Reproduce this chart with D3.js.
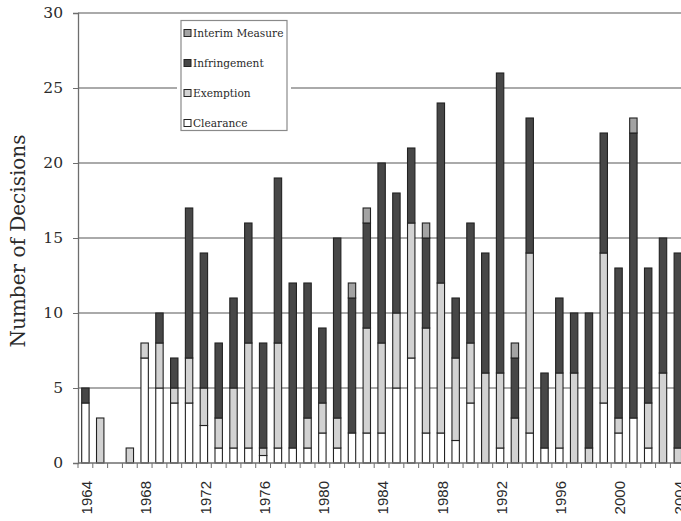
<!DOCTYPE html>
<html lang="en">
<head>
  <meta charset="UTF-8">
  <title>Decisions</title>
  <script src="https://d3js.org/d3.v7.min.js"></script>
  <style>
    body { margin: 0; background: #fff; }
    svg { display: block; }
  </style>
</head>
<body>
  <svg></svg>
  <script>
    // values, 1964..2004
    const years = d3.range(1964, 2005).map(String);
    const clearance    = [4,0,0,0,7,5,4,4,2.5,1,1,1,0.5,1,1,1,2,1,2,2,2,5,7,2,2,1.5,4,0,1,0,2,1,1,0,0,4,2,3,1,0,0];
    const exemption    = [0,3,0,1,1,3,1,3,2.5,2,4,7,0.5,7,0,2,2,2,0,7,6,5,9,7,10,5.5,4,6,5,3,12,0,5,6,1,10,1,0,3,6,1];
    const infringement = [1,0,0,0,0,2,2,10,9,5,6,8,7,11,11,9,5,12,9,7,12,8,5,6,12,4,8,8,20,4,9,5,5,4,9,8,10,19,9,9,13];
    const interim      = [0,0,0,0,0,0,0,0,0,0,0,0,0,0,0,0,0,0,1,1,0,0,0,1,0,0,0,0,0,1,0,0,0,0,0,0,0,1,0,0,0];
    const seriesNames = ["Clearance", "Exemption", "Infringement", "Interim Measure"];
    const yTicks = [0, 5, 10, 15, 20, 25, 30];
    const xLabels = ["1964","1968","1972","1976","1980","1984","1988","1992","1996","2000","2004"];

    const colors = {
      "Clearance": "#ffffff",
      "Exemption": "#d2d2d2",
      "Infringement": "#474747",
      "Interim Measure": "#a3a3a3"
    };

    const width = 681, height = 521;
    const plotLeft = 78, plotTop = 13, plotBottom = 463;
    const step = 14.81;

    const svg = d3.select("svg")
      .attr("width", width)
      .attr("height", height);

    const x = d3.scaleBand()
      .domain(years)
      .range([plotLeft, plotLeft + years.length * step])
      .paddingInner(0.5)
      .paddingOuter(0.25);

    const y = d3.scaleLinear()
      .domain([0, 30])
      .range([plotBottom, plotTop]);

    // gridlines
    svg.append("g")
      .selectAll("line")
      .data(yTicks.filter(d => d > 0))
      .enter().append("line")
      .attr("x1", plotLeft).attr("x2", width)
      .attr("y1", d => y(d)).attr("y2", d => y(d))
      .attr("stroke", "#8e8e8e")
      .attr("stroke-width", 1.3);

    // y axis
    const yAxis = svg.append("g")
      .attr("transform", `translate(${plotLeft},0)`)
      .call(d3.axisLeft(y).tickValues(yTicks).tickSize(5).tickPadding(10));
    yAxis.select(".domain").attr("stroke", "#6e6e6e").attr("stroke-width", 1.3);
    yAxis.selectAll(".tick line").attr("stroke", "#6e6e6e");
    yAxis.selectAll("text")
      .attr("font-family", "DejaVu Serif")
      .attr("font-size", 15.5)
      .attr("fill", "#2a2a2a");

    svg.append("text")
      .attr("transform", "translate(25,241) rotate(-90)")
      .attr("text-anchor", "middle")
      .attr("font-family", "DejaVu Serif")
      .attr("font-size", 20)
      .attr("fill", "#2a2a2a")
      .text("Number of Decisions");

    // stacked bars
    const table = years.map((yr, i) => ({
      year: yr,
      "Clearance": clearance[i],
      "Exemption": exemption[i],
      "Infringement": infringement[i],
      "Interim Measure": interim[i]
    }));
    const stacked = d3.stack().keys(seriesNames)(table);

    svg.append("g")
      .selectAll("g")
      .data(stacked)
      .enter().append("g")
      .attr("fill", d => colors[d.key])
      .selectAll("rect")
      .data(d => d.filter(p => p[1] - p[0] > 0))
      .enter().append("rect")
      .attr("x", d => x(d.data.year))
      .attr("width", x.bandwidth())
      .attr("y", d => y(d[1]))
      .attr("height", d => y(d[0]) - y(d[1]))
      .attr("stroke", "#222")
      .attr("stroke-width", 1.1);

    // x axis
    svg.append("line")
      .attr("x1", plotLeft).attr("x2", width)
      .attr("y1", plotBottom).attr("y2", plotBottom)
      .attr("stroke", "#6e6e6e")
      .attr("stroke-width", 1.3);

    svg.append("g")
      .selectAll("line")
      .data(d3.range(years.length + 1))
      .enter().append("line")
      .attr("x1", i => plotLeft + i * x.step())
      .attr("x2", i => plotLeft + i * x.step())
      .attr("y1", plotBottom).attr("y2", plotBottom + 5)
      .attr("stroke", "#6e6e6e");

    svg.append("g")
      .selectAll("text")
      .data(xLabels)
      .enter().append("text")
      .attr("transform", d => `translate(${x(d) + x.bandwidth() / 2 + 1.5},481) rotate(-90)`)
      .attr("dy", "0.35em")
      .attr("text-anchor", "end")
      .attr("font-family", "Liberation Sans")
      .attr("font-size", 15)
      .attr("fill", "#2a2a2a")
      .text(d => d);

    // legend
    const legend = svg.append("g");
    legend.append("rect")
      .attr("x", 177).attr("y", 18)
      .attr("width", 114).attr("height", 116)
      .attr("fill", "#fff");
    legend.append("rect")
      .attr("x", 181).attr("y", 20.5)
      .attr("width", 106).attr("height", 110)
      .attr("fill", "#fff")
      .attr("stroke", "#8a8a8a")
      .attr("stroke-width", 1.2);

    const legendOrder = seriesNames.slice().reverse();
    const item = legend.selectAll(".item")
      .data(legendOrder)
      .enter().append("g")
      .attr("class", "item")
      .attr("transform", (d, i) => `translate(184,${33 + i * 30})`);
    item.append("rect")
      .attr("x", 0).attr("y", -3.5)
      .attr("width", 7).attr("height", 7)
      .attr("fill", d => colors[d])
      .attr("stroke", "#222");
    item.append("text")
      .attr("x", 9)
      .attr("dy", "0.35em")
      .attr("font-family", "DejaVu Serif")
      .attr("font-size", 10.6)
      .attr("fill", "#2a2a2a")
      .text(d => d);
  </script>
</body>
</html>
